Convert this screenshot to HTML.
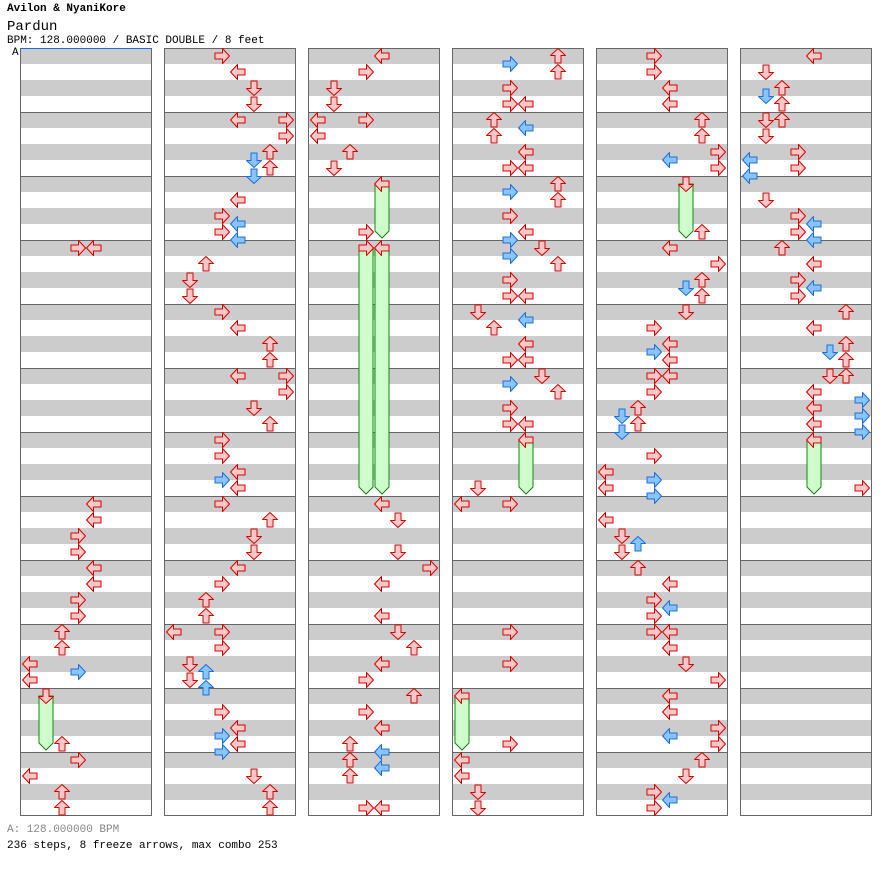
<!DOCTYPE html>
<html><head><meta charset="utf-8">
<style>
body{margin:0;background:#fff;width:896px;height:876px;overflow:hidden;font-family:"Liberation Mono",monospace;}
.t{position:absolute;left:7px;white-space:nowrap;color:#000}
</style></head><body>
<div class="t" style="top:3px;font-size:11px;font-weight:bold">Avilon &amp; NyaniKore</div>
<div class="t" style="top:19px;font-size:14px">Pardun</div>
<div class="t" style="top:35px;font-size:11px">BPM: 128.000000 / BASIC DOUBLE / 8 feet</div>
<div class="t" style="top:47px;left:12px;font-size:11px">A</div>
<div class="t" style="top:824px;font-size:11px;color:#888">A: 128.000000 BPM</div>
<div class="t" style="top:840px;font-size:11px">236 steps, 8 freeze arrows, max combo 253</div>
<svg id="s" width="896" height="876" style="position:absolute;left:0;top:0"></svg>
<script>
var s='';
for(var c=0;c<6;c++){var x=20+144*c;
for(var i=0;i<48;i++){s+='<rect x="'+x+'" y="'+(48+16*i)+'" width="132" height="16" fill="'+(i%2?'#fff':'#ccc')+'"/>';}
for(var m=1;m<12;m++)s+='<line x1="'+x+'" x2="'+(x+132)+'" y1="'+(48.5+64*m)+'" y2="'+(48.5+64*m)+'" stroke="#666"/>';
s+='<rect x="'+(x+.5)+'" y="48.5" width="131" height="767" fill="none" stroke="#666"/>';}
s+='<line x1="20" x2="152" y1="48.5" y2="48.5" stroke="#1a6ee0"/>';
var F=[[0,1,696,750],[2,4,184,238],[2,3,248,494],[2,4,248,494],[3,4,440,494],[3,0,696,750],[4,5,184,238],[5,4,440,494]];
F.forEach(function(f){var cx=20+144*f[0]+10+16*f[1];
s+='<path d="M'+(cx-7)+' '+f[2]+'V'+(f[3]-7)+'L'+cx+' '+f[3]+'L'+(cx+7)+' '+(f[3]-7)+'V'+f[2]+'Z" fill="#ccffcc" stroke="#118811"/>';});
var N=[
[0,"78:248 94:248 94:504 94:520 78:536 78:552 94:568 94:584 78:600 78:616 62:632 62:648 30:664 78:672 30:680 46:696 62:744 78:760 30:776 62:792 62:808"],
[1,"222:56 238:72 254:88 254:104 238:120 286:120 286:136 270:152 254:160 270:168 254:176 238:200 222:216 238:224 222:232 238:240 206:264 190:280 190:296 222:312 238:328 270:344 270:360 238:376 286:376 286:392 254:408 270:424 222:440 222:456 238:472 222:480 238:488 222:504 270:520 254:536 254:552 238:568 222:584 206:600 206:616 174:632 222:632 222:648 190:664 206:672 190:680 206:688 222:712 238:728 222:736 238:744 222:752 254:776 270:792 270:808"],
[2,"382:56 366:72 334:88 334:104 318:120 366:120 318:136 350:152 334:168 382:184 366:232 366:248 382:248 382:504 398:520 398:552 430:568 382:584 382:616 398:632 414:648 382:664 366:680 414:696 366:712 382:728 350:744 382:752 350:760 382:768 350:776 366:808 382:808"],
[3,"558:56 510:64 558:72 510:88 510:104 526:104 494:120 526:128 494:136 526:152 510:168 526:168 558:184 510:192 558:200 510:216 526:232 510:240 542:248 510:256 558:264 510:280 510:296 526:296 478:312 526:320 494:328 526:344 510:360 526:360 542:376 510:384 558:392 510:408 510:424 526:424 526:440 478:488 462:504 510:504 510:632 510:664 462:696 510:744 462:760 462:776 478:792 478:808"],
[4,"654:56 654:72 670:88 670:104 702:120 702:136 718:152 670:160 718:168 686:184 702:232 670:248 718:264 702:280 686:288 702:296 686:312 654:328 670:344 654:352 670:360 654:376 670:376 654:392 638:408 622:416 638:424 622:432 654:456 606:472 654:480 606:488 654:496 606:520 622:536 638:544 622:552 638:568 670:584 654:600 670:608 654:616 654:632 670:632 670:648 686:664 718:680 670:696 670:712 718:728 670:736 718:744 702:760 686:776 654:792 670:800 654:808"],
[5,"814:56 766:72 782:88 766:96 782:104 766:120 782:120 766:136 798:152 750:160 798:168 750:176 766:200 798:216 814:224 798:232 814:240 782:248 814:264 798:280 814:288 798:296 846:312 814:328 846:344 830:352 846:360 830:376 846:376 814:392 862:400 814:408 862:416 814:424 862:432 814:440 862:488"]];
var rot=[180,90,-90,0];
N.forEach(function(col){var base=20+144*col[0]+10;
col[1].split(' ').forEach(function(t){var p=t.split(':');var x=parseInt(p[0]),y=parseInt(p[1]);
var lane=Math.round((x-base)/16);var blue=((y-56)%16)!=0;
var r=rot[lane%4];
s+='<g transform="translate('+x+' '+y+') rotate('+r+')"><path d="M7.5 0L0.5 -7.5L0.5 -3L-7 -3L-7 3L0.5 3L0.5 7.5Z" fill="'+(blue?'#88c4ff':'#ffc8c8')+'" stroke="'+(blue?'#1a6ee0':'#dd0000')+'" stroke-linejoin="round"/></g>';});});
document.getElementById('s').innerHTML=s;
</script>
</body></html>
